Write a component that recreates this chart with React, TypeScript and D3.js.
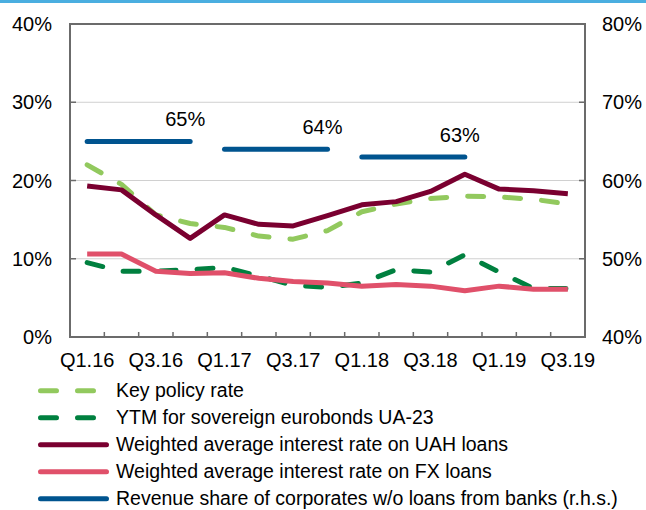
import React from "react";
import * as d3 from "d3";

const categories = ["Q1.16","Q2.16","Q3.16","Q4.16","Q1.17","Q2.17","Q3.17","Q4.17","Q1.18","Q2.18","Q3.18","Q4.18","Q1.19","Q2.19","Q3.19"];
const xTickLabels = ["Q1.16","Q3.16","Q1.17","Q3.17","Q1.18","Q3.18","Q1.19","Q3.19"];
const leftTicks = [0, 10, 20, 30, 40];
const rightTicks = [40, 50, 60, 70, 80];

const keyPolicyRate = [22.0, 19.5, 15.6, 14.5, 14.0, 12.9, 12.5, 13.6, 16.0, 17.0, 17.7, 18.0, 17.9, 17.6, 17.0];
const ytmEurobonds = [9.5, 8.4, 8.4, 8.6, 8.9, 7.8, 6.6, 6.35, 6.9, 8.6, 8.3, 10.5, 8.3, 6.2, 6.2];
const uahLoans = [19.3, 18.8, 15.6, 12.6, 15.6, 14.4, 14.2, 15.5, 16.9, 17.3, 18.6, 20.8, 18.9, 18.7, 18.3];
const fxLoans = [10.6, 10.6, 8.4, 8.1, 8.2, 7.5, 7.1, 6.9, 6.5, 6.7, 6.5, 5.9, 6.5, 6.1, 6.1];
const revenueShare = [65, 64, 63];
const revenuePeriods = [["Q1.16","Q4.16"],["Q1.17","Q4.17"],["Q1.18","Q4.18"]];

const seriesNames = [
  "Key policy rate",
  "YTM for sovereign eurobonds UA-23",
  "Weighted average interest rate on UAH loans",
  "Weighted average interest rate on FX loans",
  "Revenue share of corporates w/o loans from banks (r.h.s.)",
];

const COLORS = {
  key: "#92c95e",
  ytm: "#00803f",
  uah: "#7a0030",
  fx: "#e0506a",
  rev: "#00548f",
  axis: "#6b6b6b",
  grid: "#d0d0d0",
  top: "#4aaee0",
};

const FONT = "'Liberation Sans', Arial, sans-serif";
const W = 646, H = 510;
const L = 70, R = 585, T = 24, B = 337;

export default function App() {
  const x = d3.scaleBand<string>().domain(categories).range([L, R]).padding(0);
  const bw = x.bandwidth();
  const cx = (c: string) => (x(c) as number) + bw / 2;
  const y = d3.scaleLinear().domain([0, 40]).range([B, T]);
  const yR = d3.scaleLinear().domain([40, 80]).range([B, T]);

  const line = (vals: number[]) =>
    d3.line<number>().x((_, i) => cx(categories[i])).y((v) => y(v))(vals) as string;

  const dash = "16 21";
  const series = [
    { name: seriesNames[0], vals: keyPolicyRate, color: COLORS.key, dashed: true },
    { name: seriesNames[1], vals: ytmEurobonds, color: COLORS.ytm, dashed: true },
    { name: seriesNames[2], vals: uahLoans, color: COLORS.uah, dashed: false },
    { name: seriesNames[3], vals: fxLoans, color: COLORS.fx, dashed: false },
  ];
  const legendItems = [
    ...series.map((s) => ({ name: s.name, color: s.color, dashed: s.dashed })),
    { name: seriesNames[4], color: COLORS.rev, dashed: false },
  ];

  const fs = 20;
  const lfs = 19.5;
  return (
    <svg width={W} height={H} style={{ position: "absolute", left: 0, top: 0, background: "#fff" }} fontFamily={FONT}>
      <rect x={0} y={0} width={W} height={H} fill="#fff" />
      <rect x={0} y={0} width={W} height={3} fill={COLORS.top} />
      {/* gridlines */}
      {leftTicks.filter((t) => t > 0 && t < 40).map((t) => (
        <line key={"g" + t} x1={L} x2={R} y1={y(t)} y2={y(t)} stroke={COLORS.grid} strokeWidth={1} />
      ))}
      {/* frame */}
      <rect x={L} y={T} width={R - L} height={B - T} fill="none" stroke={COLORS.axis} strokeWidth={2} />
      {/* left ticks */}
      {leftTicks.map((t) => (
        <g key={"l" + t}>
          <line x1={L} x2={L + 6} y1={y(t)} y2={y(t)} stroke={COLORS.axis} strokeWidth={1.5} />
          <text x={52} y={y(t)} dy="0.36em" textAnchor="end" fontSize={fs} fill="#000">{t}%</text>
        </g>
      ))}
      {rightTicks.map((t) => (
        <g key={"r" + t}>
          <line x1={R - 6} x2={R} y1={yR(t)} y2={yR(t)} stroke={COLORS.axis} strokeWidth={1.5} />
          <text x={602} y={yR(t)} dy="0.36em" textAnchor="start" fontSize={fs} fill="#000">{t}%</text>
        </g>
      ))}
      {/* x ticks */}
      {categories.slice(1).map((c) => (
        <line key={"xt" + c} x1={x(c) as number} x2={x(c) as number} y1={B} y2={B - 5} stroke={COLORS.axis} strokeWidth={1.5} />
      ))}
      {xTickLabels.map((c) => (
        <text key={"xl" + c} x={cx(c)} y={367} textAnchor="middle" fontSize={fs} fill="#000">{c}</text>
      ))}
      {/* series */}
      {series.map((s) => (
        <path key={s.name} d={line(s.vals)} fill="none" stroke={s.color} strokeWidth={5}
          strokeLinejoin="round" strokeLinecap={s.dashed ? "round" : "butt"}
          strokeDasharray={s.dashed ? dash : undefined} />
      ))}
      {revenueShare.map((v, i) => {
        const [a, b] = revenuePeriods[i];
        return (
          <g key={"rev" + i}>
            <line x1={cx(a)} x2={cx(b)} y1={yR(v)} y2={yR(v)} stroke={COLORS.rev} strokeWidth={5} strokeLinecap="round" />
            <text x={cx(b) - 5} y={yR(v) - 15} textAnchor="middle" fontSize={fs} fill="#000">{v}%</text>
          </g>
        );
      })}
      {/* legend */}
      {legendItems.map((it, i) => {
        const cy = 390.7 + i * 27;
        return (
          <g key={"lg" + i}>
            <line x1={40.5} x2={106.5} y1={cy} y2={cy} stroke={it.color} strokeWidth={5} strokeLinecap="round"
              strokeDasharray={it.dashed ? dash : undefined} />
            <text x={116} y={cy + 6.7} fontSize={lfs} fill="#000">{it.name}</text>
          </g>
        );
      })}
    </svg>
  );
}
